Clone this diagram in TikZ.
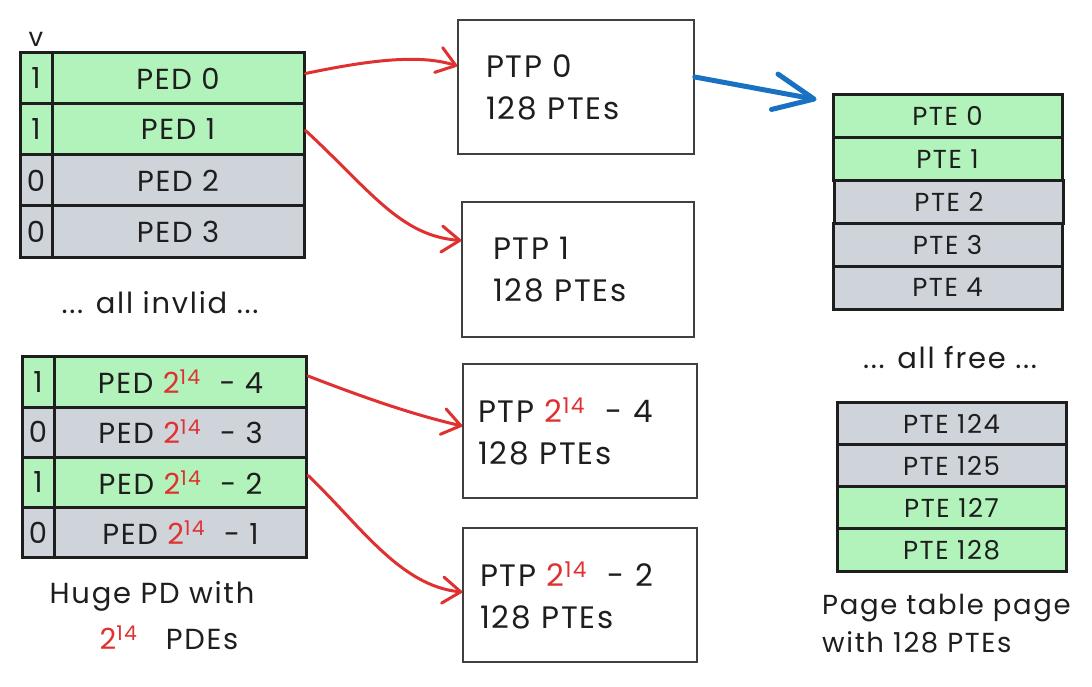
\documentclass[tikz,border=0pt]{standalone}
\usepackage{fontspec}
\setmainfont{Poppins}[LetterSpace=6]
\usetikzlibrary{arrows.meta}
\definecolor{grn}{HTML}{B2F2BB}
\definecolor{gry}{HTML}{CED4DA}
\definecolor{redc}{HTML}{E03131}
\definecolor{bluec}{HTML}{1971C2}
\definecolor{edge}{HTML}{1E1E1E}
\newcommand\twoft{{\color{redc}2\textsuperscript{14}}}
\begin{document}
\begin{tikzpicture}[x=1pt,y=-1pt,
  font=\fontsize{29}{41}\selectfont,
  cell/.style={draw=edge, line width=3pt, inner sep=0pt, text=edge},
  vcell/.style={cell, minimum width=32pt},
  pcell/.style={cell, minimum width=252pt},
  tcell/.style={cell, minimum width=229pt, minimum height=42.8pt, font=\fontsize{26}{30}\selectfont},
  ptpbox/.style={draw=edge!85, line width=1.5pt, text=edge, align=left, inner ysep=0pt, font=\fontsize{31}{42}\selectfont},
  label/.style={text=edge, inner sep=0pt},
  redarrow/.style={draw=redc, line width=3pt, line cap=round,
    -{Straight Barb[length=18pt,width=26pt,line cap=round,round]}},
  bluearrow/.style={draw=bluec, line width=5pt, line cap=round,
    -{Straight Barb[length=40pt,width=36pt,line cap=round,round]}}
]
\useasboundingbox (0,0) rectangle (1092,687);

% ---------- left top table ----------
\node[label, font=\fontsize{26}{30}\selectfont] (vlab) at (36,39) {v};
\node[vcell, fill=grn, minimum height=51pt] (v0) at (36,78.5) {1};
\node[pcell, fill=grn, minimum height=51pt] (p0) at (178,78.5) {PED 0};
\node[vcell, fill=grn, minimum height=51pt] (v1) at (36,129.5) {1};
\node[pcell, fill=grn, minimum height=51pt] (p1) at (178,129.5) {PED 1};
\node[vcell, fill=gry, minimum height=51pt] (v2) at (36,180.5) {0};
\node[pcell, fill=gry, minimum height=51pt] (p2) at (178,180.5) {PED 2};
\node[vcell, fill=gry, minimum height=51pt] (v3) at (36,231.5) {0};
\node[pcell, fill=gry, minimum height=51pt] (p3) at (178,231.5) {PED 3};

\node[label] (invlid) at (160,303) {... all invlid ...};

% ---------- left bottom table ----------
\node[vcell, fill=grn, minimum height=50.2pt] (w0) at (38,382) {1};
\node[pcell, fill=grn, minimum height=50.2pt] (q0) at (180.5,382) {PED \twoft\ \ - 4};
\node[vcell, fill=gry, minimum height=50.2pt] (w1) at (38,432.2) {0};
\node[pcell, fill=gry, minimum height=50.2pt] (q1) at (180.5,432.2) {PED \twoft\ \ - 3};
\node[vcell, fill=grn, minimum height=50.2pt] (w2) at (38,482.4) {1};
\node[pcell, fill=grn, minimum height=50.2pt] (q2) at (180.5,482.4) {PED \twoft\ \ - 2};
\node[vcell, fill=gry, minimum height=50.2pt] (w3) at (38,532.6) {0};
\node[pcell, fill=gry, minimum height=50.2pt] (q3) at (180.5,532.6) {PED \twoft\ \ - 1};

\node[label] (huge1) at (152,596) {Huge PD with};
\node[label] (huge2) at (169,638) {\twoft\ \ \ PDEs};

% ---------- PTP boxes ----------
\node[ptpbox, minimum width=236pt, minimum height=134pt, text width=180pt, inner xsep=28pt] (ptp0) at (576,87) {PTP 0\\128 PTEs};
\node[ptpbox, minimum width=232pt, minimum height=135pt, text width=170pt, inner xsep=31pt] (ptp1) at (578,269.5) {PTP 1\\128 PTEs};
\node[ptpbox, minimum width=234pt, minimum height=134pt, text width=204pt, inner xsep=15pt] (ptp3) at (580,431) {PTP \twoft\ \ - 4\\128 PTEs};
\node[ptpbox, minimum width=234pt, minimum height=134pt, text width=200pt, inner xsep=17pt] (ptp4) at (580,595) {PTP \twoft\ \ - 2\\128 PTEs};

% ---------- right top table ----------
\node[tcell, fill=grn] (t0) at (947.5,116.4) {PTE 0};
\node[tcell, fill=grn] (t1) at (947.5,159.2) {PTE 1};
\node[tcell, fill=gry] (t2) at (949,202) {PTE 2};
\node[tcell, fill=gry] (t3) at (947.5,244.8) {PTE 3};
\node[tcell, fill=gry] (t4) at (947.5,287.6) {PTE 4};

\node[label] (free) at (950,358) {... all free ...};

% ---------- right bottom table ----------
\node[tcell, fill=gry] (u0) at (951.5,424) {PTE 124};
\node[tcell, fill=gry] (u1) at (951.5,466) {PTE 125};
\node[tcell, fill=grn] (u2) at (951.5,508) {PTE 127};
\node[tcell, fill=grn] (u3) at (951.5,550) {PTE 128};

\node[label, align=left, anchor=north west, font=\fontsize{27.5}{38}\selectfont] (ptpcap) at (822,594) {Page table page\\with 128 PTEs};

% ---------- arrows ----------
\draw[redarrow] ([yshift=5pt]p0.east) .. controls (370,60) and (420,54) .. ([yshift=21pt]ptp0.west);
\draw[redarrow] ([yshift=-1pt]p1.east) .. controls (370,190) and (400,236) .. ([yshift=29pt]ptp1.west);
\draw[redarrow] ([yshift=6pt]q0.east) .. controls (360,396) and (410,414) .. ([yshift=5pt]ptp3.west);
\draw[redarrow] ([yshift=7pt]q2.east) .. controls (360,525) and (400,586) .. ([yshift=3pt]ptp4.west);
\coordinate (bend) at ([shift={(-15pt,-6pt)}]t0.north west);
\draw[bluearrow] ([yshift=10pt]ptp0.east) -- (bend);
\end{tikzpicture}
\end{document}
